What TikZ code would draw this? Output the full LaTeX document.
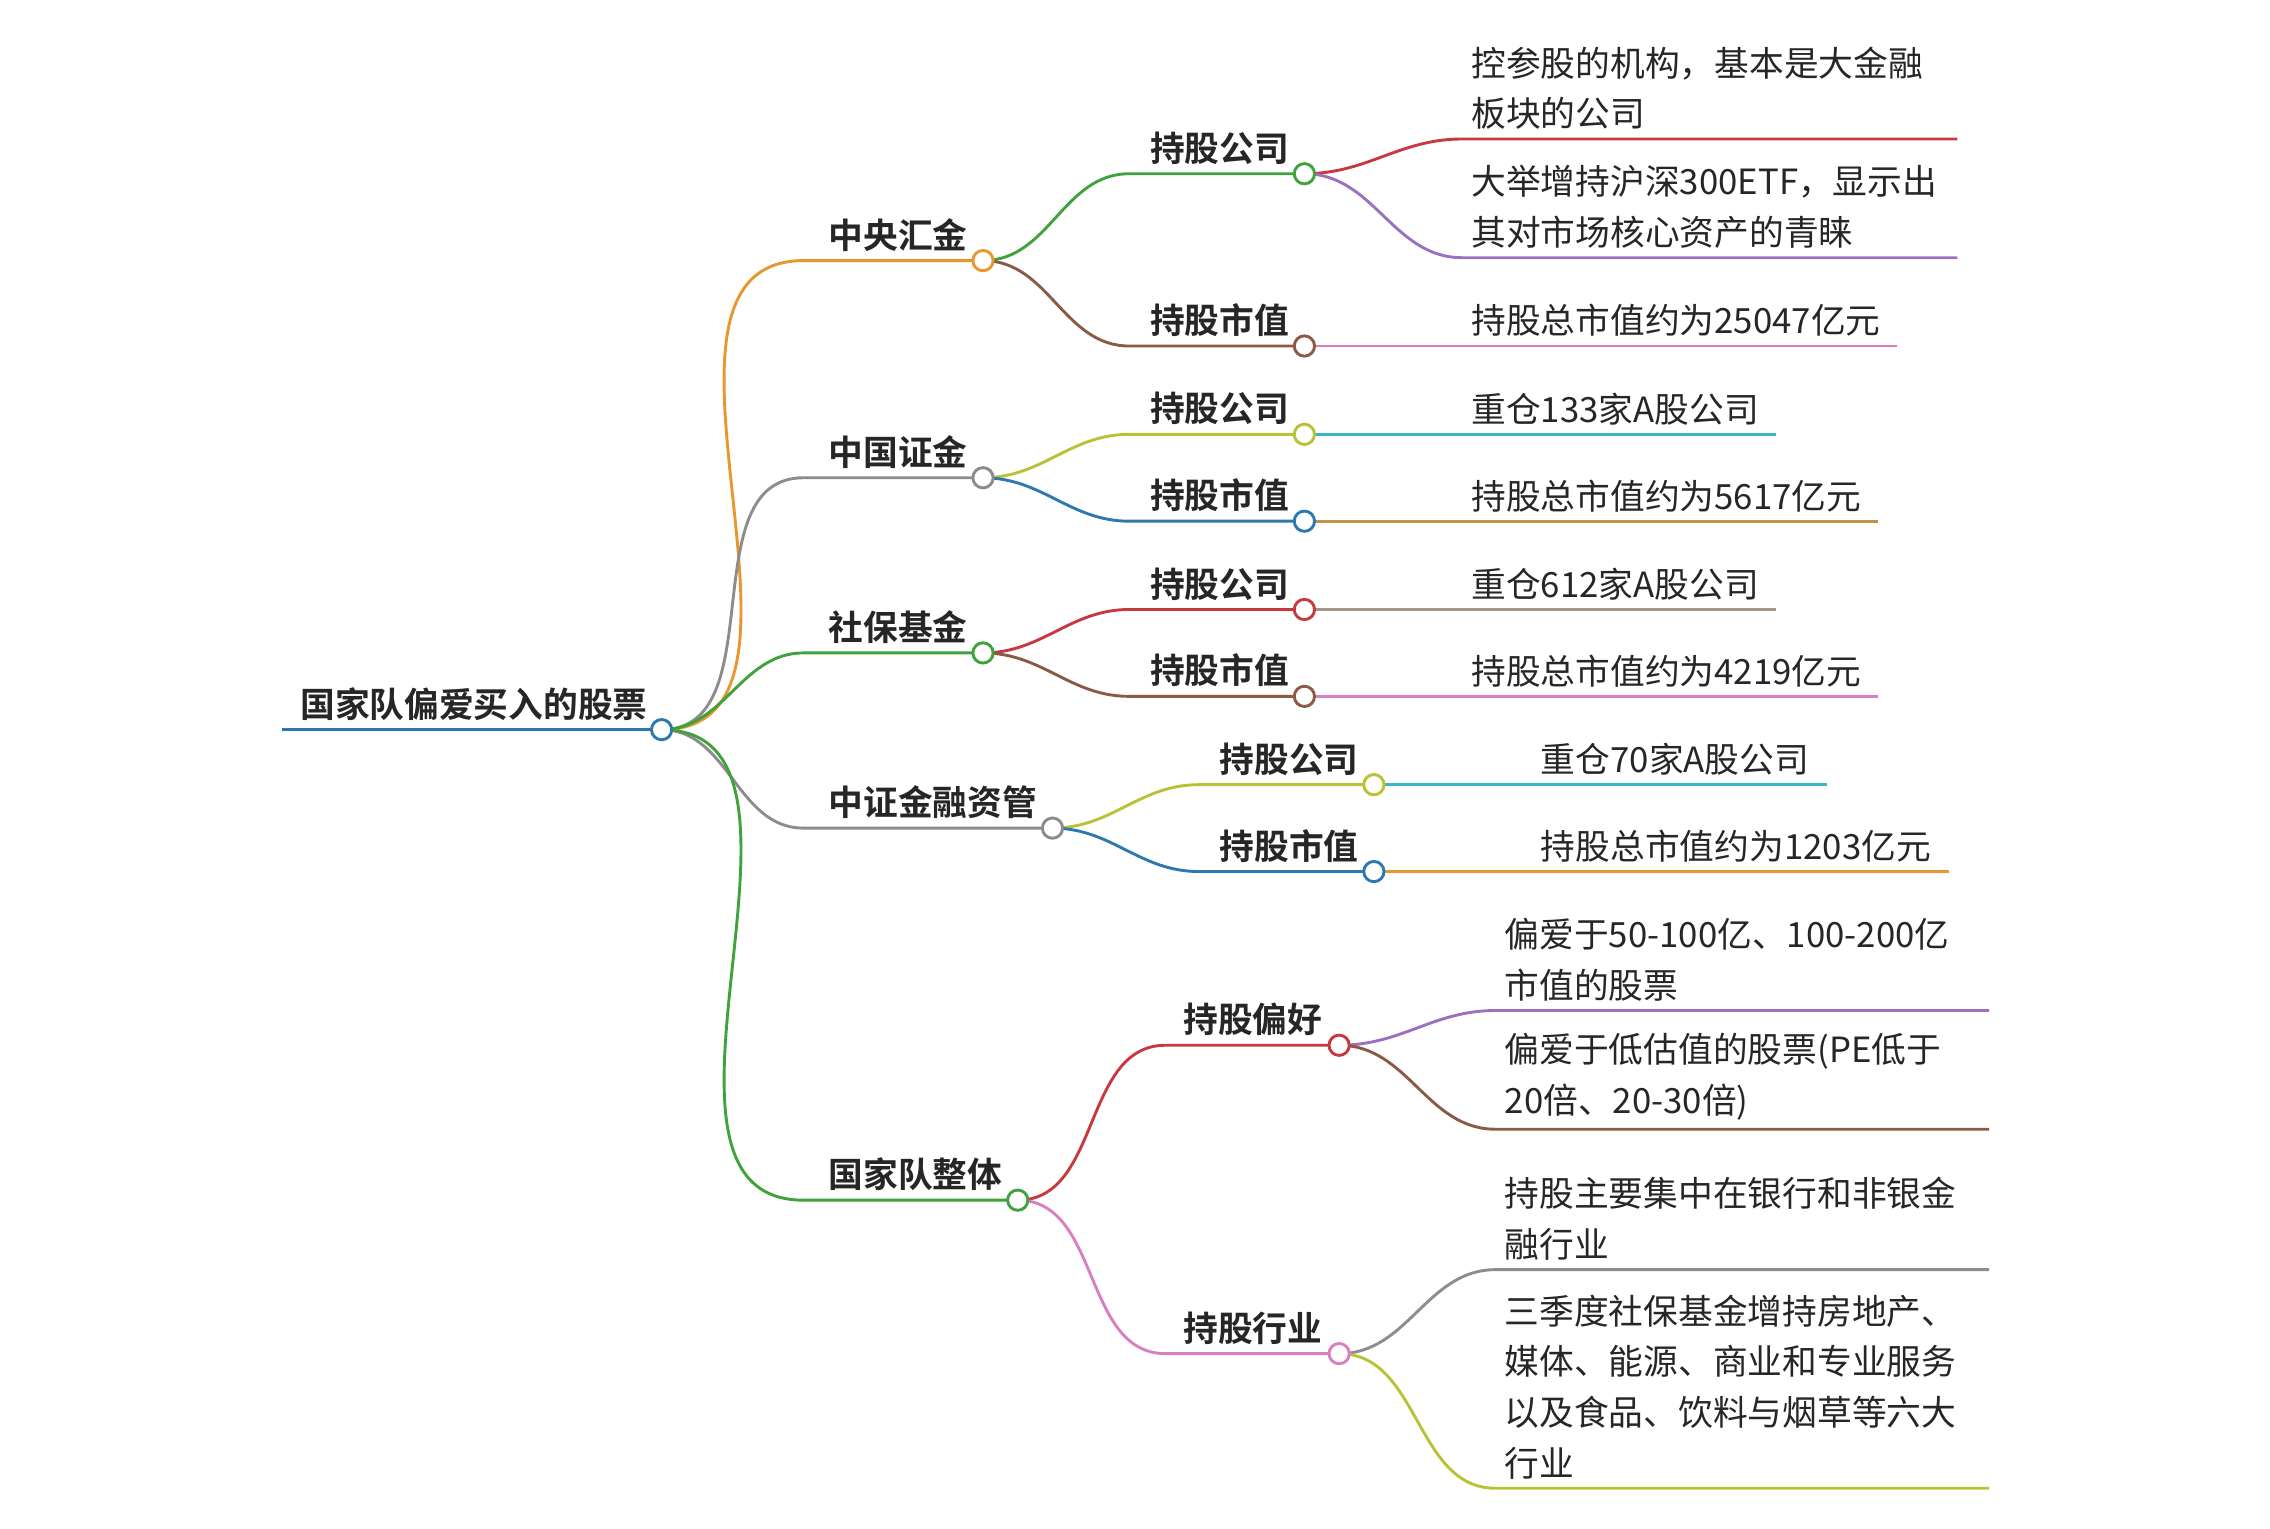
\documentclass[tikz,border=0pt]{standalone}
\usepackage{fontspec}
\setmainfont{Noto Sans CJK SC}[BoldFont={Noto Sans CJK SC Bold}]
\definecolor{cor}{HTML}{E8962E}
\definecolor{cgr}{HTML}{8C8C8C}
\definecolor{cgn}{HTML}{3FA23A}
\definecolor{cbr}{HTML}{8B5A44}
\definecolor{cyg}{HTML}{B8C233}
\definecolor{cbl}{HTML}{2E78B0}
\definecolor{crd}{HTML}{C7383F}
\definecolor{cpk}{HTML}{D97FC0}
\definecolor{ccy}{HTML}{3BB5C4}
\definecolor{ctn}{HTML}{C8914A}
\definecolor{cpu}{HTML}{9B70C0}
\definecolor{cgb}{HTML}{A8968F}
\newcommand\Br[6]{\coordinate (#2s) at (#3,#4); \coordinate (#2) at (#5,#4);
 \draw[e,draw=#6] (#1) to[out=0,in=180] (#2s) -- (#2);}
\newcommand\Dot[2]{\draw[dotc,draw=#2] (#1) circle (7);}
\begin{document}
\begin{tikzpicture}[x=0.5pt,y=-0.5pt,
 e/.style={line width=1pt},
 dotc/.style={line width=1pt,fill=white},
 t1/.style={font=\bfseries\fontsize{12}{14}\selectfont,inner sep=1pt,anchor=south west,text=black!85},
 lf/.style={font=\fontsize{12}{17.5}\selectfont,inner sep=1pt,anchor=south west,align=left,text=black!85}]
\useasboundingbox (0,0) rectangle (1568,1056);
\coordinate (r0) at (195,504); \coordinate (r) at (457,504);
\draw[e,draw=cbl] (r0) -- (r);
\node[t1] (rt) at (205,500) {国家队偏爱买入的股票};
% level 1
\Br{r}{a}{555}{180}{679}{cor}
\Br{r}{b}{555}{330}{679}{cgr}
\Br{r}{c}{555}{451}{679}{cgn}
\Br{r}{d}{555}{572}{727}{cgr}
\Br{r}{f}{555}{829}{703}{cgn}
\node[t1] at (570,176) {中央汇金};
\node[t1] at (570,326) {中国证金};
\node[t1] at (570,447) {社保基金};
\node[t1] at (570,568) {中证金融资管};
\node[t1] at (570,825) {国家队整体};
% level 2
\Br{a}{a1}{780}{120}{901}{cgn}
\Br{a}{a2}{780}{239}{901}{cbr}
\Br{b}{b1}{780}{300}{901}{cyg}
\Br{b}{b2}{780}{360}{901}{cbl}
\Br{c}{c1}{780}{421}{901}{crd}
\Br{c}{c2}{780}{481}{901}{cbr}
\Br{d}{d1}{828}{542}{949}{cyg}
\Br{d}{d2}{828}{602}{949}{cbl}
\Br{f}{f1}{805}{722}{925}{crd}
\Br{f}{f2}{805}{935}{925}{cpk}
\node[t1] at (792,116) {持股公司};
\node[t1] at (792,235) {持股市值};
\node[t1] at (792,296) {持股公司};
\node[t1] at (792,356) {持股市值};
\node[t1] at (792,417) {持股公司};
\node[t1] at (792,477) {持股市值};
\node[t1] at (840,538) {持股公司};
\node[t1] at (840,598) {持股市值};
\node[t1] at (815,718) {持股偏好};
\node[t1] at (815,931) {持股行业};
% leaves
\Br{a1}{l1}{1010}{96}{1352}{crd}
\Br{a1}{l2}{1010}{178}{1352}{cpu}
\Br{a2}{l3}{1010}{239}{1310}{cpk}
\Br{b1}{l4}{1010}{300}{1227}{ccy}
\Br{b2}{l5}{1010}{360}{1297}{ctn}
\Br{c1}{l6}{1010}{421}{1227}{cgb}
\Br{c2}{l7}{1010}{481}{1297}{cpk}
\Br{d1}{l8}{1057}{542}{1262}{ccy}
\Br{d2}{l9}{1057}{602}{1346}{cor}
\Br{f1}{l10}{1033}{698}{1374}{cpu}
\Br{f1}{l11}{1033}{780}{1374}{cbr}
\Br{f2}{l12}{1033}{877}{1374}{cgr}
\Br{f2}{l13}{1033}{1028}{1374}{cyg}
\node[lf] at (1014,92) {控参股的机构，基本是大金融\\板块的公司};
\node[lf] at (1014,174) {大举增持沪深300ETF，显示出\\其对市场核心资产的青睐};
\node[lf] at (1014,235) {持股总市值约为25047亿元};
\node[lf] at (1014,296) {重仓133家A股公司};
\node[lf] at (1014,356) {持股总市值约为5617亿元};
\node[lf] at (1014,417) {重仓612家A股公司};
\node[lf] at (1014,477) {持股总市值约为4219亿元};
\node[lf] at (1062,538) {重仓70家A股公司};
\node[lf] at (1062,598) {持股总市值约为1203亿元};
\node[lf] at (1037,694) {偏爱于50-100亿、100-200亿\\市值的股票};
\node[lf] at (1037,776) {偏爱于低估值的股票(PE低于\\20倍、20-30倍)};
\node[lf] at (1037,873) {持股主要集中在银行和非银金\\融行业};
\node[lf] at (1037,1024) {三季度社保基金增持房地产、\\媒体、能源、商业和专业服务\\以及食品、饮料与烟草等六大\\行业};
% dots
\Dot{r}{cbl}
\Dot{a}{cor}\Dot{b}{cgr}\Dot{c}{cgn}\Dot{d}{cgr}\Dot{f}{cgn}
\Dot{a1}{cgn}\Dot{a2}{cbr}\Dot{b1}{cyg}\Dot{b2}{cbl}\Dot{c1}{crd}\Dot{c2}{cbr}
\Dot{d1}{cyg}\Dot{d2}{cbl}\Dot{f1}{crd}\Dot{f2}{cpk}
\end{tikzpicture}
\end{document}
